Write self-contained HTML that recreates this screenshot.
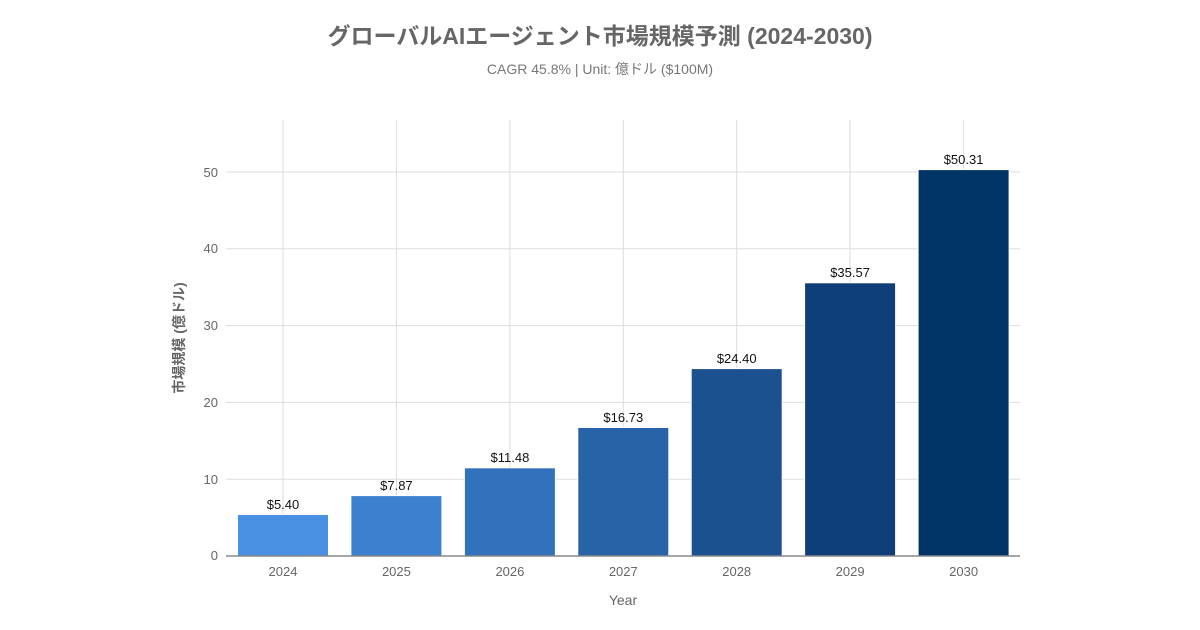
<!DOCTYPE html>
<html><head><meta charset="utf-8"><style>
html,body{margin:0;padding:0;background:#fff;width:1200px;height:630px;overflow:hidden}
text{font-family:"Liberation Sans","Noto Sans CJK JP",sans-serif}
</style></head><body>
<svg width="1200" height="630" xmlns="http://www.w3.org/2000/svg">
<text x="600" y="44" text-anchor="middle" font-size="23" font-weight="bold" fill="#666">グローバルAIエージェント市場規模予測 (2024-2030)</text>
<text x="600" y="74" text-anchor="middle" font-size="14" fill="#777">CAGR 45.8% | Unit: 億ドル ($100M)</text>
<g stroke="#ddd" stroke-width="1">
<line x1="226" x2="1020" y1="479.2" y2="479.2"/>
<line x1="226" x2="1020" y1="402.4" y2="402.4"/>
<line x1="226" x2="1020" y1="325.6" y2="325.6"/>
<line x1="226" x2="1020" y1="248.8" y2="248.8"/>
<line x1="226" x2="1020" y1="172" y2="172"/>
<line x1="283" x2="283" y1="120" y2="556"/>
<line x1="396.4" x2="396.4" y1="120" y2="556"/>
<line x1="509.9" x2="509.9" y1="120" y2="556"/>
<line x1="623.3" x2="623.3" y1="120" y2="556"/>
<line x1="736.7" x2="736.7" y1="120" y2="556"/>
<line x1="850.1" x2="850.1" y1="120" y2="556"/>
<line x1="963.6" x2="963.6" y1="120" y2="556"/>
</g>
<g font-size="13" fill="#666" text-anchor="end">
<text x="218" y="560">0</text><text x="218" y="484">10</text><text x="218" y="407">20</text>
<text x="218" y="330">30</text><text x="218" y="253">40</text><text x="218" y="177">50</text>
</g>
<g stroke="#fff" stroke-width="1">
<rect x="237.5" y="514.5" width="91" height="41.5" fill="#4a90e2"/>
<rect x="350.9" y="495.6" width="91" height="60.4" fill="#3d80d0"/>
<rect x="464.4" y="467.8" width="91" height="88.2" fill="#3272bd"/>
<rect x="577.8" y="427.5" width="91" height="128.5" fill="#2862a7"/>
<rect x="691.2" y="368.6" width="91" height="187.4" fill="#1b518f"/>
<rect x="804.6" y="282.8" width="91" height="273.2" fill="#0e3f78"/>
<rect x="918.1" y="169.6" width="91" height="386.4" fill="#003366"/>
</g>
<line x1="226" x2="1020" y1="556" y2="556" stroke="#888" stroke-width="1.5"/>
<g font-size="13" fill="#111" text-anchor="middle">
<text x="283" y="509">$5.40</text><text x="396.4" y="490">$7.87</text><text x="509.9" y="462">$11.48</text>
<text x="623.3" y="422">$16.73</text><text x="736.7" y="363">$24.40</text><text x="850.1" y="277">$35.57</text>
<text x="963.6" y="164">$50.31</text>
</g>
<g font-size="13" fill="#666" text-anchor="middle">
<text x="283" y="576">2024</text><text x="396.4" y="576">2025</text><text x="509.9" y="576">2026</text>
<text x="623.3" y="576">2027</text><text x="736.7" y="576">2028</text><text x="850.1" y="576">2029</text>
<text x="963.6" y="576">2030</text>
<text x="623" y="605" font-size="14">Year</text>
</g>
<text transform="translate(184,338) rotate(-90)" text-anchor="middle" font-size="14" font-weight="bold" fill="#666">市場規模 (億ドル)</text>
</svg>
</body></html>
